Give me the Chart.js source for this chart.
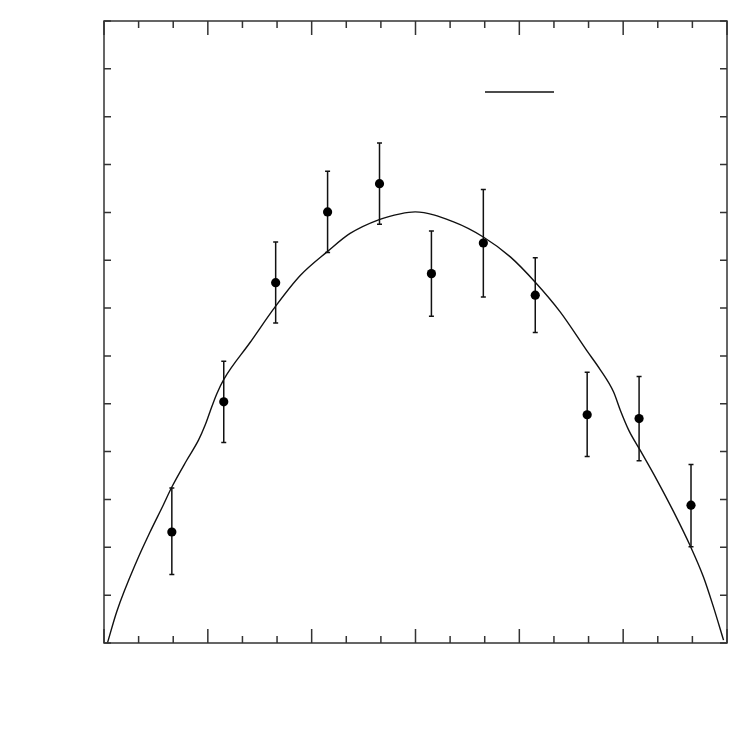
<!DOCTYPE html>
<html>
<head>
<meta charset="utf-8">
<script src="https://cdn.jsdelivr.net/npm/chart.js@4/dist/chart.umd.min.js"></script>
<style>
  html, body { margin: 0; padding: 0; background: #fff; }
  #wrap { width: 747px; height: 747px; }
</style>
</head>
<body>
<div id="wrap"><canvas id="c" width="747" height="747"></canvas></div>
<script>
    // ===== Datos =====
    const angles = [19.6, 34.6, 49.6, 64.6, 79.6, 94.6, 109.6, 124.6, 139.6, 154.6, 169.6];
    const values = [0.232, 0.504, 0.753, 0.901, 0.960, 0.772, 0.836, 0.727, 0.477, 0.469, 0.288];
    const errLo  = [0.143, 0.419, 0.669, 0.816, 0.875, 0.683, 0.723, 0.649, 0.390, 0.381, 0.201];
    const errHi  = [0.324, 0.589, 0.838, 0.986, 1.045, 0.861, 0.948, 0.805, 0.566, 0.557, 0.373];

    // curva ajustada
    const curveX = [1, 3.7, 9.5, 13.3, 17.1, 19.6, 23.9, 27.3, 29.2, 30.6, 32.6, 34.7, 42.2, 49.6, 56.7,
                    64.7, 71.1, 79.5, 85.6, 89.9, 101.0, 109.7, 117.4, 124.6, 131.8, 139.5, 143.4, 147.2,
                    149.2, 151.6, 154.9, 159.8, 164.6, 169.5, 173.2, 176.1, 179.0];
    const curveY = [0, 0.066, 0.172, 0.232, 0.288, 0.326, 0.382, 0.424, 0.455, 0.483, 0.521, 0.552, 0.628,
                    0.704, 0.768, 0.819, 0.856, 0.885, 0.897, 0.901, 0.880, 0.848, 0.807, 0.754, 0.692, 0.611,
                    0.571, 0.525, 0.486, 0.445, 0.403, 0.340, 0.274, 0.201, 0.138, 0.075, 0.006];

    // ejes
    const X_MIN = 0, X_MAX = 180, X_MINOR = 10, X_MAJOR = 30;
    const Y_MIN = 0, Y_MAX = 1.3, Y_STEP = 0.1;

    // ===== Plugin: barras de error, marco, ticks hacia dentro, leyenda =====
    const decor = {
        id: 'decor',
        beforeDatasetsDraw(chart) {
            const ctx = chart.ctx, x = chart.scales.x, y = chart.scales.y;
            ctx.save();
            ctx.strokeStyle = '#111';
            ctx.lineWidth = 1.5;
            angles.forEach((a, i) => {
                const px = x.getPixelForValue(a);
                const top = y.getPixelForValue(errHi[i]);
                const bot = y.getPixelForValue(errLo[i]);
                ctx.beginPath();
                ctx.moveTo(px, top); ctx.lineTo(px, bot);
                ctx.moveTo(px - 2.5, top); ctx.lineTo(px + 2.5, top);
                ctx.moveTo(px - 2.5, bot); ctx.lineTo(px + 2.5, bot);
                ctx.stroke();
            });
            ctx.restore();
        },
        afterDraw(chart) {
            const ctx = chart.ctx, a = chart.chartArea, x = chart.scales.x, y = chart.scales.y;
            ctx.save();
            ctx.strokeStyle = '#333';
            ctx.lineWidth = 1.5;
            ctx.strokeRect(a.left, a.top, a.right - a.left, a.bottom - a.top);

            ctx.beginPath();
            for (let v = X_MIN; v <= X_MAX + 0.001; v += X_MINOR) {
                const px = x.getPixelForValue(v);
                const len = (Math.round(v) % X_MAJOR === 0) ? 14 : 7;
                ctx.moveTo(px, a.bottom); ctx.lineTo(px, a.bottom - len);
                ctx.moveTo(px, a.top);    ctx.lineTo(px, a.top + len);
            }
            for (let k = 0; k <= Math.round((Y_MAX - Y_MIN) / Y_STEP); k++) {
                const py = y.getPixelForValue(Y_MIN + k * Y_STEP);
                ctx.moveTo(a.left, py);  ctx.lineTo(a.left + 7, py);
                ctx.moveTo(a.right, py); ctx.lineTo(a.right - 7, py);
            }
            ctx.stroke();

            // leyenda (sólo la muestra de línea)
            ctx.strokeStyle = '#111';
            ctx.lineWidth = 1.3;
            ctx.beginPath();
            const ly = a.top + 71;
            ctx.moveTo(a.left + 381, ly); ctx.lineTo(a.left + 450, ly);
            ctx.stroke();
            ctx.restore();
        }
    };

    new Chart(document.getElementById('c').getContext('2d'), {
        type: 'scatter',
        data: {
            datasets: [
                {
                    label: 'curva',
                    type: 'line',
                    data: curveX.map((v, i) => ({ x: v, y: curveY[i] })),
                    borderColor: '#111',
                    borderWidth: 1.4,
                    pointRadius: 0,
                    fill: false,
                    cubicInterpolationMode: 'monotone',
                    order: 2
                },
                {
                    label: 'datos',
                    data: angles.map((v, i) => ({ x: v, y: values[i] })),
                    backgroundColor: '#000',
                    borderColor: '#000',
                    pointRadius: 4.6,
                    pointBorderWidth: 0,
                    order: 1
                }
            ]
        },
        options: {
            responsive: false,
            animation: false,
            layout: { padding: { left: 104, top: 21, right: 20, bottom: 104 } },
            plugins: { legend: { display: false }, tooltip: { enabled: false } },
            scales: {
                x: { type: 'linear', min: X_MIN, max: X_MAX, display: false },
                y: { type: 'linear', min: Y_MIN, max: Y_MAX, display: false }
            }
        },
        plugins: [decor]
    });
</script>
</body>
</html>
